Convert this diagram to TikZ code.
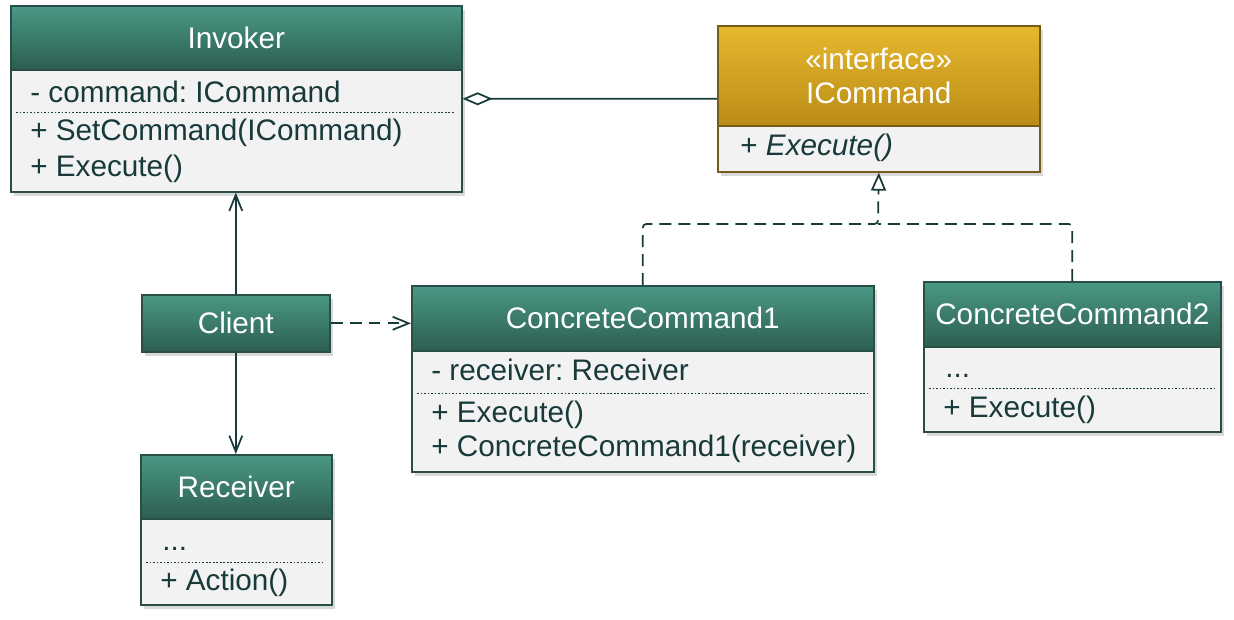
\documentclass[tikz,border=0pt]{standalone}
\usepackage{fontspec}
\setmainfont{Liberation Sans}
\usepackage{tikz}
\usetikzlibrary{shapes,arrows.meta,shadows}
\frenchspacing

\definecolor{headtop}{RGB}{74,152,133}
\definecolor{headbot}{RGB}{44,94,80}
\definecolor{headline}{RGB}{40,78,72}
\definecolor{ifacetop}{RGB}{230,184,46}
\definecolor{ifacebot}{RGB}{186,140,22}
\definecolor{ifaceline}{RGB}{118,92,24}
\definecolor{bodyfill}{RGB}{242,242,242}
\definecolor{ink}{RGB}{24,58,58}

\begin{document}
\begin{tikzpicture}[
  every node/.style={font=\fontsize{16.9}{19.3}\selectfont},
  boxshadow/.style={drop shadow={shadow xshift=2pt, shadow yshift=-2.5pt, opacity=0.3}},
  classbox/.style={draw=headline, line width=0.9pt, fill=bodyfill, anchor=north west, inner sep=0pt, boxshadow},
  classhead/.style={draw=headline, line width=0.9pt, top color=headtop, bottom color=headbot, text=white, anchor=north west, inner sep=0pt, align=center},
  ifacebox/.style={classbox, draw=ifaceline},
  ifacehead/.style={classhead, draw=ifaceline, top color=ifacetop, bottom color=ifacebot},
  member/.style={text=ink, anchor=base west, inner sep=0pt},
  sep/.style={draw=ink, line width=0.5pt, dash pattern=on 1pt off 1pt},
  link/.style={draw=ink, line width=1pt},
  dashlink/.style={link, dash pattern=on 6.8pt off 4pt}
]
\useasboundingbox (0,0) rectangle (24.68,-12.38);

% Invoker
\node[classbox, minimum width=9.02cm, minimum height=3.72cm] (invoker) at (0.2,-0.1) {};
\node[classhead, minimum width=9.02cm, minimum height=1.28cm] (invokerhead) at (0.2,-0.1) {Invoker};
\node[member] (invattr) at (0.6,-2.04) {- command: ICommand};
\draw[sep] (0.32,-2.24) -- (9.1,-2.24);
\node[member] (invset) at (0.6,-2.8) {+ SetCommand(ICommand)};
\node[member] (invexec) at (0.6,-3.52) {+ Execute()};

% ICommand
\node[ifacebox, minimum width=6.44cm, minimum height=2.92cm] (icommand) at (14.34,-0.5) {};
\node[ifacehead, minimum width=6.44cm, minimum height=2.0cm] (icommandhead) at (14.34,-0.5) {«interface»\\ICommand};
\node[member] (icmdexec) at (14.8,-3.1) {+ \textit{Execute()}};

% Client
\node[classhead, boxshadow, minimum width=3.76cm, minimum height=1.14cm] (client) at (2.82,-5.88) {Client};

% Receiver
\node[classbox, minimum width=3.82cm, minimum height=3.0cm] (receiver) at (2.8,-9.08) {};
\node[classhead, minimum width=3.82cm, minimum height=1.28cm] (receiverhead) at (2.8,-9.08) {Receiver};
\node[member] (recdots) at (3.24,-11.0) {...};
\draw[sep] (2.92,-11.24) -- (6.5,-11.24);
\node[member] (recaction) at (3.2,-11.8) {+ Action()};

% ConcreteCommand1
\node[classbox, minimum width=9.24cm, minimum height=3.72cm] (cc1) at (8.22,-5.7) {};
\node[classhead, minimum width=9.24cm, minimum height=1.3cm] (cc1head) at (8.22,-5.7) {ConcreteCommand1};
\node[member] (cc1attr) at (8.62,-7.6) {- receiver: Receiver};
\draw[sep] (8.34,-7.86) -- (17.34,-7.86);
\node[member] (cc1exec) at (8.62,-8.44) {+ Execute()};
\node[member] (cc1ctor) at (8.62,-9.12) {+ ConcreteCommand1(receiver)};

% ConcreteCommand2
\node[classbox, minimum width=5.94cm, minimum height=3.0cm] (cc2) at (18.46,-5.62) {};
\node[classhead, minimum width=5.94cm, minimum height=1.3cm] (cc2head) at (18.46,-5.62) {ConcreteCommand2};
\node[member] (cc2dots) at (18.9,-7.54) {...};
\draw[sep] (18.58,-7.76) -- (24.28,-7.76);
\node[member] (cc2exec) at (18.86,-8.34) {+ Execute()};

% connectors
\coordinate (join) at (17.56,-4.48);
\draw[link, {Diamond[open, length=0.6cm, width=0.26cm]}-] (invoker.east) -- (icommand.west);
\draw[link, -{Straight Barb[length=0.32cm, width=0.26cm]}] (client.north) -- (client.north |- invoker.south);
\draw[link, -{Straight Barb[length=0.32cm, width=0.26cm]}] (client.south) -- (client.south |- receiver.north);
\draw[dashlink, -{Straight Barb[length=0.32cm, width=0.26cm]}] (client.east) -- (client.east -| cc1.west);
\draw[dashlink, rounded corners=2pt, -{Triangle[open, length=0.36cm, width=0.3cm]}] (cc1.north) |- (join) -- (icommand.south);
\draw[dashlink, rounded corners=2pt] (cc2.north) |- (join);
\end{tikzpicture}
\end{document}
